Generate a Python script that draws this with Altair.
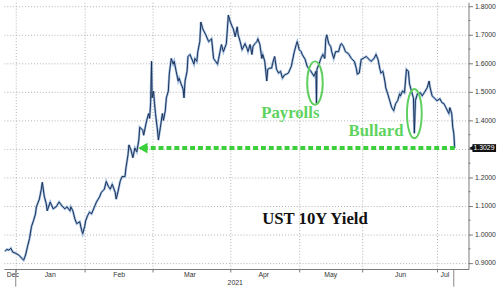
import altair as alt
import pandas as pd

# ---------------- data ----------------
times = [
    "2020-12-27T10:00", "2020-12-28T06:00", "2020-12-29T02:00", "2020-12-29T22:00", "2020-12-30T18:00",
    "2021-01-01T00:00", "2021-01-02T08:00", "2021-01-03T16:00", "2021-01-04T13:00", "2021-01-05T10:00",
    "2021-01-06T08:00", "2021-01-07T05:00", "2021-01-08T02:00", "2021-01-08T23:00", "2021-01-09T21:00",
    "2021-01-10T07:00", "2021-01-11T15:00", "2021-01-12T12:00", "2021-01-12T23:00", "2021-01-13T20:00",
    "2021-01-14T18:00", "2021-01-15T04:00", "2021-01-16T12:00", "2021-01-17T20:00", "2021-01-19T04:00",
    "2021-01-20T12:00", "2021-01-21T20:00", "2021-01-23T03:00", "2021-01-24T01:00", "2021-01-25T09:00",
    "2021-01-25T19:00", "2021-01-26T17:00", "2021-01-27T14:00", "2021-01-28T11:00", "2021-01-29T19:00",
    "2021-01-30T16:00", "2021-01-31T03:00",
    "2021-02-01T00:00", "2021-02-01T10:00", "2021-02-02T05:00", "2021-02-03T01:00", "2021-02-03T20:00",
    "2021-02-05T01:00", "2021-02-05T21:00", "2021-02-07T02:00", "2021-02-07T22:00", "2021-02-09T03:00",
    "2021-02-09T22:00", "2021-02-10T18:00", "2021-02-11T13:00", "2021-02-12T09:00", "2021-02-13T14:00",
    "2021-02-14T00:00", "2021-02-14T19:00", "2021-02-15T15:00", "2021-02-16T10:00", "2021-02-17T15:00",
    "2021-02-18T01:00", "2021-02-18T21:00", "2021-02-19T06:00", "2021-02-20T02:00", "2021-02-20T21:00",
    "2021-02-21T17:00", "2021-02-22T12:00", "2021-02-23T08:00", "2021-02-23T17:00", "2021-02-24T23:00",
    "2021-02-25T08:00", "2021-02-25T18:00", "2021-02-26T14:00", "2021-02-27T09:00", "2021-02-27T19:00",
    "2021-02-28T05:00", "2021-02-28T14:00", "2021-02-28T19:00",
    "2021-03-01T09:00", "2021-03-01T19:00", "2021-03-02T04:00", "2021-03-02T23:00", "2021-03-03T08:00",
    "2021-03-04T03:00", "2021-03-04T22:00", "2021-03-05T08:00", "2021-03-06T02:00", "2021-03-06T12:00",
    "2021-03-07T07:00", "2021-03-07T16:00", "2021-03-08T11:00", "2021-03-09T06:00", "2021-03-09T15:00",
    "2021-03-10T10:00", "2021-03-11T05:00", "2021-03-11T14:00", "2021-03-12T09:00", "2021-03-13T04:00",
    "2021-03-13T13:00", "2021-03-13T23:00", "2021-03-14T18:00", "2021-03-15T03:00", "2021-03-15T22:00",
    "2021-03-16T17:00", "2021-03-17T12:00", "2021-03-17T21:00", "2021-03-18T16:00", "2021-03-19T01:00",
    "2021-03-19T20:00", "2021-03-20T06:00", "2021-03-21T00:00", "2021-03-22T05:00", "2021-03-23T09:00",
    "2021-03-24T13:00", "2021-03-25T08:00", "2021-03-26T03:00", "2021-03-26T22:00", "2021-03-27T07:00",
    "2021-03-28T11:00", "2021-03-29T06:00", "2021-03-30T10:00", "2021-03-30T20:00", "2021-03-31T05:00",
    "2021-04-01T00:00", "2021-04-01T21:00", "2021-04-02T07:00", "2021-04-03T03:00", "2021-04-04T00:00",
    "2021-04-04T10:00", "2021-04-05T07:00", "2021-04-06T03:00", "2021-04-07T10:00", "2021-04-08T07:00",
    "2021-04-08T17:00", "2021-04-09T14:00", "2021-04-10T10:00", "2021-04-10T21:00", "2021-04-11T17:00",
    "2021-04-12T14:00", "2021-04-13T00:00", "2021-04-13T21:00", "2021-04-14T17:00", "2021-04-15T03:00",
    "2021-04-16T00:00", "2021-04-16T21:00", "2021-04-17T07:00", "2021-04-18T03:00", "2021-04-19T00:00",
    "2021-04-19T10:00", "2021-04-20T07:00", "2021-04-21T03:00", "2021-04-22T00:00", "2021-04-22T21:00",
    "2021-04-23T17:00", "2021-04-24T14:00", "2021-04-25T10:00", "2021-04-26T07:00", "2021-04-27T14:00",
    "2021-04-28T00:00", "2021-04-28T21:00", "2021-04-29T17:00", "2021-04-30T03:00",
    "2021-05-01T00:00", "2021-05-01T23:00", "2021-05-02T11:00", "2021-05-03T22:00", "2021-05-04T21:00",
    "2021-05-05T20:00", "2021-05-06T19:00", "2021-05-07T07:00", "2021-05-08T06:00", "2021-05-09T06:00",
    "2021-05-09T12:00", "2021-05-09T17:00", "2021-05-10T17:00", "2021-05-11T16:00", "2021-05-12T15:00",
    "2021-05-13T14:00", "2021-05-14T02:00", "2021-05-14T13:00", "2021-05-15T13:00", "2021-05-16T12:00",
    "2021-05-17T00:00", "2021-05-17T23:00", "2021-05-18T22:00", "2021-05-20T09:00", "2021-05-21T08:00",
    "2021-05-21T20:00", "2021-05-22T19:00", "2021-05-23T18:00", "2021-05-25T05:00", "2021-05-26T16:00",
    "2021-05-28T03:00", "2021-05-29T02:00", "2021-05-29T14:00", "2021-05-30T13:00", "2021-05-31T12:00",
    "2021-06-01T09:00", "2021-06-02T14:00", "2021-06-03T18:00", "2021-06-04T13:00", "2021-06-05T18:00",
    "2021-06-06T13:00", "2021-06-07T08:00", "2021-06-08T03:00", "2021-06-08T12:00", "2021-06-09T07:00",
    "2021-06-10T02:00", "2021-06-10T11:00", "2021-06-11T06:00", "2021-06-12T01:00", "2021-06-12T20:00",
    "2021-06-13T15:00", "2021-06-14T10:00", "2021-06-15T05:00", "2021-06-16T00:00", "2021-06-16T09:00",
    "2021-06-17T04:00", "2021-06-17T23:00", "2021-06-18T18:00", "2021-06-19T13:00", "2021-06-19T23:00",
    "2021-06-20T18:00", "2021-06-21T13:00", "2021-06-21T22:00", "2021-06-22T08:00", "2021-06-23T03:00",
    "2021-06-24T07:00", "2021-06-25T02:00", "2021-06-25T21:00", "2021-06-27T01:00", "2021-06-27T20:00",
    "2021-06-28T06:00", "2021-06-29T01:00", "2021-06-29T20:00",
    "2021-07-01T00:00", "2021-07-02T05:00", "2021-07-03T01:00", "2021-07-03T20:00", "2021-07-04T16:00",
    "2021-07-05T21:00", "2021-07-06T07:00", "2021-07-07T02:00", "2021-07-07T12:00", "2021-07-07T22:00",
    "2021-07-08T07:00",
]
yields = [
    0.941, 0.948, 0.945, 0.952, 0.938,
    0.934, 0.928, 0.917, 0.910, 0.928,
    0.959, 0.986, 1.028, 1.048, 1.072,
    1.097, 1.124, 1.159, 1.183, 1.134,
    1.107, 1.083, 1.114, 1.090, 1.097,
    1.114, 1.100, 1.090, 1.097, 1.083,
    1.097, 1.083, 1.055, 1.038, 1.045,
    1.014, 1.003,
    1.028, 1.048, 1.066, 1.079, 1.072,
    1.097, 1.114, 1.131, 1.148, 1.159,
    1.186, 1.169, 1.159, 1.176, 1.148,
    1.124, 1.152, 1.186, 1.203, 1.203,
    1.234, 1.279, 1.314, 1.297, 1.269,
    1.303, 1.290, 1.331, 1.376, 1.366,
    1.348, 1.366, 1.400, 1.424, 1.407,
    1.462, 1.607, 1.479,
    1.503, 1.459, 1.424, 1.366, 1.331,
    1.376, 1.424, 1.400, 1.434, 1.479,
    1.503, 1.562, 1.617, 1.597, 1.607,
    1.572, 1.538, 1.548, 1.528, 1.510,
    1.479, 1.538, 1.572, 1.624, 1.631,
    1.614, 1.597, 1.617, 1.607, 1.641,
    1.676, 1.745, 1.721, 1.700, 1.676,
    1.686, 1.617, 1.607, 1.597, 1.614,
    1.666, 1.641, 1.669, 1.721, 1.769,
    1.745, 1.728, 1.721, 1.693, 1.728,
    1.700, 1.676, 1.648, 1.669, 1.652,
    1.641, 1.666, 1.631, 1.659, 1.669,
    1.676, 1.686, 1.666, 1.617, 1.631,
    1.607, 1.538, 1.579, 1.583, 1.583,
    1.600, 1.624, 1.579, 1.566, 1.572,
    1.548, 1.559, 1.562, 1.566, 1.590,
    1.607, 1.641, 1.666, 1.676,
    1.648, 1.641, 1.631, 1.614, 1.590,
    1.579, 1.572, 1.566, 1.555, 1.572,
    1.459, 1.579, 1.597, 1.617, 1.631,
    1.617, 1.686, 1.700, 1.669, 1.659,
    1.641, 1.617, 1.641, 1.641, 1.666,
    1.669, 1.659, 1.641, 1.634, 1.617,
    1.607, 1.583, 1.562, 1.566, 1.614,
    1.617, 1.624, 1.614, 1.607, 1.617,
    1.631, 1.614, 1.579, 1.566, 1.572,
    1.538, 1.514, 1.493, 1.469, 1.445,
    1.434, 1.459, 1.469, 1.493, 1.486,
    1.503, 1.497, 1.579, 1.572, 1.528,
    1.503, 1.479, 1.355, 1.469, 1.493,
    1.497, 1.486, 1.497, 1.514, 1.538,
    1.514, 1.486, 1.479,
    1.469, 1.476, 1.462, 1.459, 1.445,
    1.424, 1.445, 1.424, 1.376, 1.355,
    1.3029,
]

last_value = 1.3029
last_label = "1.3029"
arrow_start = "2021-02-25T00:00"
arrow_end = "2021-07-08T07:00"

month_names = ["Dec", "Jan", "Feb", "Mar", "Apr", "May", "Jun", "Jul"]
month_mids = ["2020-12-30T18:00", "2021-01-16T12:00", "2021-02-15T05:00", "2021-03-15T22:00",
              "2021-04-15T14:00", "2021-05-16T12:00", "2021-06-16T09:00", "2021-07-04T06:00"]
month_starts = ["2021-01-01", "2021-02-01", "2021-03-01", "2021-04-01",
                "2021-05-01", "2021-06-01", "2021-07-01"]
year_label = ["2021"]
year_mid = ["2021-04-03T03:00"]
year_marks = ["2021-01-01T00:00", "2021-07-07T22:00"]

notes = ["Payrolls", "Bullard"]
note_times = ["2021-04-27T03:00", "2021-06-06T13:00"]
note_values = [1.424, 1.362]

title_text = ["UST 10Y Yield"]
title_time = ["2021-05-08T18:00"]
title_value = [1.055]

ellipse_times = ["2021-05-08T18:00", "2021-06-21T22:00"]
ellipse_values = [1.531, 1.424]

y_ticks = [0.9, 1.0, 1.1, 1.2, 1.3, 1.4, 1.5, 1.6, 1.7, 1.8]
y_minor = [0.95, 1.05, 1.15, 1.25, 1.35, 1.45, 1.55, 1.65, 1.75]

# Bloomberg-style axis: months are spaced by trading days (piecewise axis)
axis_breaks = ["2020-12-27", "2021-01-01", "2021-02-01", "2021-03-01", "2021-04-01",
               "2021-05-01", "2021-06-01", "2021-07-01", "2021-07-14"]
axis_break_px = [0, 12, 82, 151, 230, 300, 364, 440, 472]


def ms(s):
    """timestamp (ms since epoch, UTC) of a date string"""
    return int(pd.Timestamp(s, tz="UTC").value // 10**6)


def to_ms(lst):
    return [ms(s) for s in lst]


# ---------------- tables ----------------
df = pd.DataFrame({"t": to_ms(times), "v": yields})
months_df = pd.DataFrame({"t": to_ms(month_mids), "m": month_names})
year_df = pd.DataFrame({"t": to_ms(year_mid), "m": year_label})
marks_df = pd.DataFrame({"t": to_ms(year_marks)})
notes_df = pd.DataFrame({"t": to_ms(note_times), "v": note_values, "m": notes})
title_df = pd.DataFrame({"t": to_ms(title_time), "v": title_value, "m": title_text})
arrow_df = pd.DataFrame({"t": to_ms([arrow_start]), "t2": to_ms([arrow_end]), "v": [last_value]})
last_df = pd.DataFrame({"v": [last_value], "m": [last_label]})
minor_df = pd.DataFrame({"v": y_minor})
ell1_df = pd.DataFrame({"t": to_ms([ellipse_times[0]]), "v": [ellipse_values[0]]})
ell2_df = pd.DataFrame({"t": to_ms([ellipse_times[1]]), "v": [ellipse_values[1]]})

W, H = 472, 271

xscale = alt.Scale(
    type="linear",
    domain=to_ms(axis_breaks),
    range=axis_break_px,
    nice=False, zero=False,
)
yscale = alt.Scale(domain=[0.879, 1.814], nice=False, zero=False)

x_axis = alt.Axis(
    values=to_ms(month_starts),
    labels=False, title=None, grid=True, gridDash=[1, 2], gridColor="#b0b0b0",
    tickSize=3, tickColor="#777", domainColor="#777",
)
y_axis = alt.Axis(
    orient="right", values=y_ticks, title=None,
    labelExpr="abs(datum.value - 1.3) > 0.01 ? format(datum.value, '.4f') : ''",
    tickSize=4, grid=True, gridDash=[1, 2], gridColor="#b0b0b0",
    tickColor="#777", domainColor="#777",
    labelFont="Liberation Sans", labelFontSize=7, labelColor="#333", labelPadding=2,
)


# every layer carries the same scale and axis definitions, so they merge cleanly
def X(f="t"):
    return alt.X(f + ":Q", scale=xscale, axis=x_axis)


def Y(f="v"):
    return alt.Y(f + ":Q", scale=yscale, axis=y_axis)


halo = alt.Chart(df).mark_line(color="#4f86c6", strokeWidth=2.4, opacity=0.55).encode(x=X(), y=Y())
line = alt.Chart(df).mark_line(color="#1c2f55", strokeWidth=1.0).encode(x=X(), y=Y())

minor_ticks = alt.Chart(minor_df).mark_rule(color="#777", strokeWidth=1).encode(
    x=alt.value(W), x2=alt.value(W + 2), y=Y()
)

arrow = alt.Chart(arrow_df).mark_rule(color="#3ccf3c", strokeWidth=4, strokeDash=[5, 3]).encode(
    x=X(), x2="t2:Q", y=Y()
)
arrow_head = alt.Chart(arrow_df).mark_point(
    shape="triangle-left", filled=True, color="#3ccf3c", size=120, opacity=1
).encode(x=X(), y=Y())

ell1 = alt.Chart(ell1_df).mark_point(
    shape="M0,-1 A0.36,1 0 1,1 0,1 A0.36,1 0 1,1 0,-1 Z", size=1936, stroke="#5fcf5f",
    strokeWidth=2, filled=False, opacity=1
).encode(x=X(), y=Y())
ell2 = alt.Chart(ell2_df).mark_point(
    shape="M0,-1 A0.3,1 0 1,1 0,1 A0.3,1 0 1,1 0,-1 Z", size=2500, stroke="#5fcf5f",
    strokeWidth=2, filled=False, opacity=1
).encode(x=X(), y=Y())

note_text = alt.Chart(notes_df).mark_text(
    font="Liberation Serif", fontWeight="bold", fontSize=17, color="#5fd35f",
    align="center", baseline="middle"
).encode(x=X(), y=Y(), text="m:N")

title = alt.Chart(title_df).mark_text(
    font="Liberation Serif", fontWeight="bold", fontSize=17, color="#111111",
    align="center", baseline="middle"
).encode(x=X(), y=Y(), text="m:N")

month_text = alt.Chart(months_df).mark_text(
    font="Liberation Sans", fontSize=7, color="#333", align="center", baseline="middle"
).encode(x=X(), y=alt.value(H + 6), text="m:N")
year_text = alt.Chart(year_df).mark_text(
    font="Liberation Sans", fontSize=7, color="#333", align="center", baseline="middle"
).encode(x=X(), y=alt.value(H + 14), text="m:N")
year_rules = alt.Chart(marks_df).mark_rule(color="#888", strokeWidth=1).encode(
    x=X(), y=alt.value(H), y2=alt.value(H + 18)
)

box = alt.Chart(last_df).mark_rule(color="#111", strokeWidth=8).encode(
    x=alt.value(476), x2=alt.value(500), y=Y()
)
box_tip = alt.Chart(last_df).mark_point(
    shape="triangle-left", filled=True, color="#111", size=30, opacity=1
).encode(x=alt.value(475), y=Y())
box_text = alt.Chart(last_df).mark_text(
    font="Liberation Sans", fontSize=7, color="white", align="left", baseline="middle"
).encode(x=alt.value(477), y=Y(), text="m:N")

chart = alt.layer(
    halo, line, minor_ticks, arrow, arrow_head, ell1, ell2, note_text, title,
    month_text, year_text, year_rules, box, box_tip, box_text
).properties(width=W, height=H, padding=0, background="white").configure_view(stroke=None)

chart.save("out.html", embed_options={"renderer": "svg", "actions": False})
